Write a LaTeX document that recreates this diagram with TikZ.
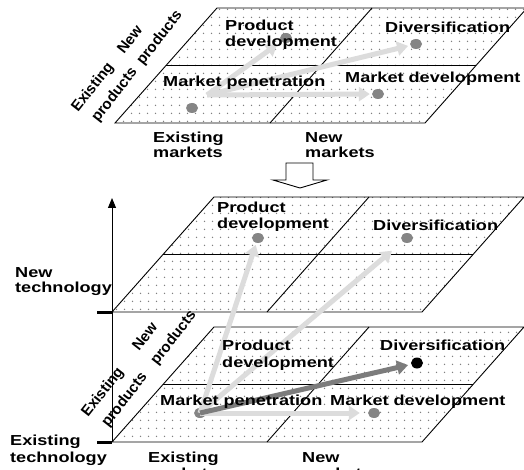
\documentclass[tikz,border=0pt]{standalone}
\usepackage{fontspec}
\usepackage{graphicx}
\newfontfamily\lblfont{Liberation Sans Bold}
\newcommand\wtxt[1]{\scalebox{1.25}[1]{#1}}
\usetikzlibrary{arrows.meta,patterns,shapes.geometric}
\pgfdeclarepatternformonly{sparsedots}{\pgfqpoint{0pt}{0pt}}{\pgfqpoint{7.5pt}{7.5pt}}{\pgfqpoint{7.5pt}{7.5pt}}{\pgfpathcircle{\pgfqpoint{3.75pt}{3.75pt}}{0.8pt}\pgfusepath{fill}}
\definecolor{lightarr}{HTML}{DCDCDC}
\definecolor{darkarr}{HTML}{7C7C7C}
\definecolor{dotgray}{HTML}{858585}
\newcommand\myplane[2]{%
\begin{scope}[shift={(#1,#2)}]
\fill[white] (0,0) -- (310,0) -- (412,-115) -- (102,-115) -- cycle;
\fill[pattern=sparsedots, pattern color=black!50] (0,0) -- (310,0) -- (412,-115) -- (102,-115) -- cycle;
\draw[edge] (0,0) -- (310,0) -- (412,-115) -- (102,-115) -- cycle;
\draw[edge] (51,-57.5) -- (361,-57.5);
\draw[edge] (155,0) -- (257,-115);
\end{scope}}
\begin{document}
\begin{tikzpicture}[x=1pt,y=-1pt,
  edge/.style={draw=black, line width=0.9pt},
  lbl/.style={font=\lblfont\fontsize{14.5}{16}\selectfont, inner sep=0pt, anchor=base west},
  rlbl/.style={font=\lblfont\fontsize{15}{16}\selectfont, inner sep=0pt, rotate=52, anchor=base west},
  gdot/.style={ellipse, fill=dotgray, minimum width=12pt, minimum height=10pt, inner sep=0pt},
  bdot/.style={ellipse, fill=black, minimum width=12pt, minimum height=11pt, inner sep=0pt},
  larrow/.style={draw=lightarr, line width=5pt, -{Triangle[length=11pt,width=14pt]}},
  darrow/.style={draw=darkarr, line width=5pt, -{Triangle[length=11pt,width=14pt]}},
  axisline/.style={draw=black, line width=1pt, -{Triangle[length=10pt,width=8pt]}},
  tickline/.style={draw=black, line width=3pt}]
\useasboundingbox (0,0) rectangle (524,470);

% planes
\myplane{115}{123}
\myplane{112}{312}
\myplane{112}{442}

% hollow down arrow
\draw[black, line width=0.9pt, fill=white] (286,163) -- (313,163) -- (313,180) -- (327,180) -- (300,188) -- (273,180) -- (286,180) -- cycle;

% axis and ticks
\coordinate (axbot) at (112,442);
\coordinate (axtop) at (112,198);
\draw[axisline] (axbot) -- (axtop);
\coordinate (tka) at (97,312);
\coordinate (tkb) at (112,312);
\coordinate (tkc) at (97,442);
\coordinate (tkd) at (112,442);
\draw[tickline] (tka) -- (tkb);
\draw[tickline] (tkc) -- (tkd);

% dots top plane
\node[gdot] (tmp) at (192,108) {};
\node[gdot] (tpd) at (286,38) {};
\node[gdot] (tdv) at (416,44) {};
\node[gdot] (tmd) at (378,94) {};
% dots middle plane
\node[gdot] (mpd) at (258,238) {};
\node[gdot] (mdv) at (407,238) {};
% dots bottom plane
\node[gdot] (bmp) at (200,413) {};
\node[gdot] (bmd) at (374,413) {};
\node[bdot] (bdv) at (417,363) {};

% arrows top plane
\coordinate (ts) at (207,95);
\draw[larrow, shorten >=5pt] (ts) -- (tpd);
\draw[larrow, shorten >=2pt] (ts) -- (tdv);
\draw[larrow, shorten >=2pt] (ts) -- (tmd);
% arrows bottom to middle / bottom
\draw[larrow, shorten >=2pt] (bmp.center) -- (mpd);
\draw[larrow, shorten >=14pt] (bmp.center) -- (mdv);
\draw[larrow, shorten >=8pt] (bmp.center) -- (bmd);
\draw[darrow, shorten >=3pt] (bmp.center) -- (bdv);

% texts top plane
\node[lbl] (t1) at (225,31) {\wtxt{Product}};
\node[lbl] (t2) at (225,47) {\wtxt{development}};
\node[lbl] (t3) at (385,33) {\wtxt{Diversification}};
\node[lbl] (t4) at (163,87) {\wtxt{Market penetration}};
\node[lbl] (t5) at (345,83) {\wtxt{Market development}};
\node[lbl] (t6) at (153,143) {\wtxt{Existing}};
\node[lbl] (t7) at (153,158) {\wtxt{markets}};
\node[lbl] (t8) at (305,143) {\wtxt{New}};
\node[lbl] (t9) at (305,158) {\wtxt{markets}};
\node[rlbl] (r1) at (78,113) {Existing};
\node[rlbl] (r2) at (98,123) {products};
\node[rlbl] (r3) at (124,55) {New};
\node[rlbl] (r4) at (143,66) {products};

% texts middle plane
\node[lbl] (m1) at (217,213) {\wtxt{Product}};
\node[lbl] (m2) at (217,229) {\wtxt{development}};
\node[lbl] (m3) at (373,230) {\wtxt{Diversification}};
\node[lbl] (m4) at (15,277) {\wtxt{New}};
\node[lbl] (m5) at (15,292) {\wtxt{technology}};

% texts bottom plane
\node[lbl] (b1) at (222,350) {\wtxt{Product}};
\node[lbl] (b2) at (222,367) {\wtxt{development}};
\node[lbl] (b3) at (380,350) {\wtxt{Diversification}};
\node[lbl] (b4) at (160,405) {\wtxt{Market penetration}};
\node[lbl] (b5) at (330,405) {\wtxt{Market development}};
\node[lbl] (b6) at (10,445) {\wtxt{Existing}};
\node[lbl] (b7) at (10,462) {\wtxt{technology}};
\node[lbl] (b8) at (148,462) {\wtxt{Existing}};
\node[lbl] (b9) at (148,478) {\wtxt{markets}};
\node[lbl] (b10) at (302,462) {\wtxt{New}};
\node[lbl] (b11) at (302,478) {\wtxt{markets}};
\node[rlbl] (r5) at (88,418) {Existing};
\node[rlbl] (r6) at (108,428) {products};
\node[rlbl] (r7) at (139,352) {New};
\node[rlbl] (r8) at (157,366) {products};
\end{tikzpicture}
\end{document}
